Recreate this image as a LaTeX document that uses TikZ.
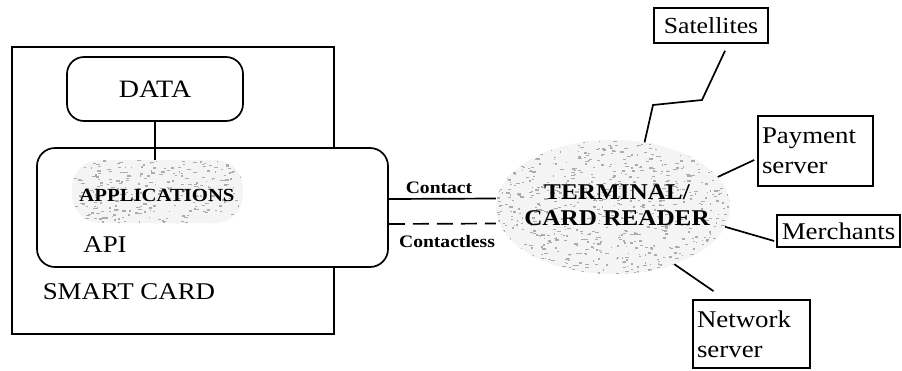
\documentclass[tikz,border=0pt]{standalone}
\usepackage{fontspec}
\setmainfont[FakeStretch=1.12]{Liberation Serif}
\usetikzlibrary{shapes.geometric,calc}
\tikzset{
  ln/.style={line width=1.7pt},
  plainbox/.style={draw, line width=1.7pt, inner sep=0pt},
  roundbox/.style={draw, line width=1.7pt, fill=white, rounded corners=17pt, inner sep=0pt},
  srvbox/.style={draw, line width=1.7pt, inner xsep=4pt, inner ysep=0pt, align=left, font=\fontsize{24}{30}\selectfont},
}
\begin{document}
\begin{tikzpicture}[x=1pt,y=-1pt]
\useasboundingbox[fill=white] (0,0) rectangle (902,370);
\pgfmathsetseed{7}
% smart card outline
\node[plainbox, minimum width=322pt, minimum height=287pt] (card) at (173,190.5) {};
\node[font=\fontsize{24}{29}\selectfont] (cardlbl) at (129,292) {SMART CARD};
% DATA
\node[roundbox, minimum width=176pt, minimum height=64pt, font=\fontsize{25}{30}\selectfont] (data) at (155,89) {DATA};
% API box
\node[roundbox, rounded corners=18pt, minimum width=351pt, minimum height=119pt] (api) at (212.5,207.5) {};
\node[font=\fontsize{24}{29}\selectfont] (apilbl) at (105,245) {API};
% applications blob
\begin{scope}
  \clip[rounded corners=28pt] (72,160) rectangle (243,223);
  \fill[gray!9] (72,160) rectangle (243,223);
  \foreach \i in {1,...,280}{
    \pgfmathsetmacro\px{72+171*rnd}
    \pgfmathsetmacro\py{160+63*rnd}
    \pgfmathsetmacro\pw{1+3*rnd}
    \fill[gray!65] (\px,\py) rectangle ++(\pw,1.3);
  }
\end{scope}
\node[minimum width=171pt, minimum height=63pt, inner sep=0pt] (apps) at (157.5,191.5) {};
\node[font=\bfseries\fontsize{18.5}{22}\selectfont] (appslbl) at (157,195) {APPLICATIONS};
\draw[ln] (data.south) -- (data.south |- apps.north);
% terminal
\node[ellipse, minimum width=234pt, minimum height=134pt, inner sep=0pt] (term) at (613,207) {};
\begin{scope}
  \clip (613,207) ellipse [x radius=117pt, y radius=67pt];
  \fill[gray!9] (496,140) rectangle (730,274);
  \foreach \i in {1,...,800}{
    \pgfmathsetmacro\px{496+234*rnd}
    \pgfmathsetmacro\py{140+134*rnd}
    \pgfmathsetmacro\pw{1+3*rnd}
    \fill[gray!65] (\px,\py) rectangle ++(\pw,1.3);
  }
\end{scope}
\node[font=\bfseries\fontsize{22.5}{26}\selectfont, align=center] (termlbl) at (617,205) {TERMINAL/\\CARD READER};
% contact lines
\draw[ln] ([yshift=8.5pt]api.east) -- ([yshift=8.5pt]term.west);
\draw[ln, dash pattern=on 16pt off 8pt] ([yshift=-16.5pt]api.east) -- ([yshift=-16.5pt]term.west);
\node[font=\bfseries\fontsize{17.5}{21}\selectfont] (contact) at (439,188) {Contact};
\node[font=\bfseries\fontsize{17.5}{21}\selectfont] (contactless) at (447,242) {Contactless};
% external boxes
\node[srvbox, minimum width=114pt, minimum height=35pt, font=\fontsize{23}{28}\selectfont] (sat) at (711,25.5) {Satellites};
\node[srvbox, text width=107pt, minimum height=70pt] (pay) at (815.5,151) {Payment\\server};
\node[srvbox, minimum width=123pt, minimum height=32pt] (merch) at (838.5,231) {Merchants};
\node[srvbox, text width=109pt, minimum height=68pt] (net) at (751.5,334) {Network\\server};
% connectors
\coordinate (sb1) at (702,100);
\coordinate (sb2) at (653,105);
\draw[ln] ([xshift=14pt,yshift=-7pt]sat.south) -- (sb1) -- (sb2) -- (term.64);
\draw[ln] (term.16) -- ([xshift=-3pt,yshift=-9pt]pay.west);
\draw[ln] (term.-10) -- ([xshift=-2pt,yshift=-10pt]merch.west);
\draw[ln] (term.-43) -- ([xshift=-38pt,yshift=8pt]net.north);
\end{tikzpicture}
\end{document}
